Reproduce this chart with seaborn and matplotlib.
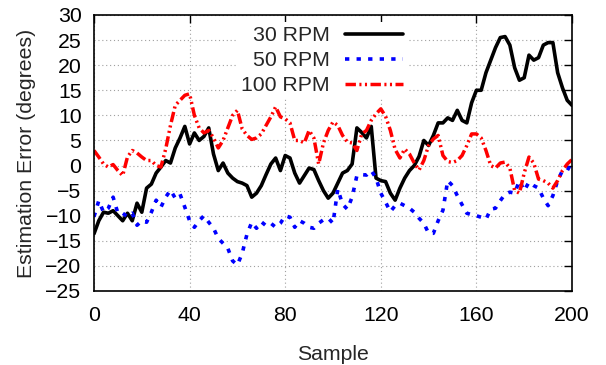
import matplotlib
matplotlib.use("Agg")
import matplotlib.pyplot as plt
import seaborn as sns
import pandas as pd

samples = list(range(0, 201, 2))

rpm30 = [-13.6, -11, -9.3, -9.5, -9.0, -10, -11, -9.5, -11, -7.5,
         -9.3, -4.5, -3.7, -1.5, -0.3, 1, 0.5, 3.5, 5.5, 7.8,
         4.3, 6.5, 5, 5.8, 7.5, 2.3, -1, 0.5, -1.5, -2.5,
         -3.2, -3.5, -4, -6.3, -5.5, -4, -1.8, 0.3, 1.5, -1,
         2, 1.5, -1.5, -3.5, -2, -0.5, -0.8, -3, -5, -6.5,
         -5.5, -3.5, -1.5, -1, 0.3, 7.5, 6.6, 5.5, 7.8, -2.5,
         -3, -3.2, -5.5, -6.9, -4.5, -2.5, -1, 0, 1.8, 5,
         4, 6, 8.5, 8.5, 9.5, 9, 11, 9, 8.5, 12.5,
         15, 15, 18.5, 21, 23.5, 25.5, 25.7, 24, 19.5, 17,
         17.5, 22, 21, 21.5, 24, 24.5, 24.5, 18.5, 15.5, 13,
         12]

rpm50 = [-10.2, -7, -9.3, -8.5, -6.3, -9.5, -9.5, -10.2, -9.5, -11.9,
         -11, -11.3, -9.3, -6.9, -8.3, -6.3, -4.9, -6.5, -5.7, -8.3,
         -11, -12.3, -11, -10, -11.3, -12.5, -14.5, -15.5, -16.5, -19,
         -19.8, -17.5, -13.7, -11.3, -12.5, -11.2, -12, -11.5, -12.3, -11.5,
         -10, -10.3, -12.3, -11, -11.5, -12.3, -12.5, -11.5, -10.8, -10.5,
         -11.5, -4.7, -7.7, -8.7, -6.3, -2, -1.8, -1.9, -1, -2.5,
         -5.5, -7.3, -9.2, -8, -7.5, -8, -8.5, -9.3, -10.5, -11.5,
         -13.5, -13.5, -11, -8.9, -3, -4, -6, -7.8, -9.5, -9.8,
         -10, -10.3, -10.7, -8.7, -8.5, -7, -5.7, -5.3, -5.5, -3,
         -5, -3.3, -4, -4.5, -6.5, -8, -6, -3, -1, -1,
         0.7]

rpm100 = [3, 1.7, 0.3, -0.3, 0.2, -1, -2, 1.7, 3, 2.5,
          1.7, 1, 1, 0, -0.3, 3.3, 8, 12, 13, 14,
          14.3, 10, 7.5, 6.5, 7, 5.5, 3.5, 5, 7.5, 10,
          11, 7.3, 6, 5.2, 5.5, 6.3, 8, 9.7, 11.7, 9.7,
          9.3, 8.5, 5, 5, 4.5, 7, 5.5, 0.3, 4.5, 7,
          8.7, 8, 6, 4.7, 4.5, 3, 6.3, 7, 9, 10.3,
          11.3, 9.8, 7, 3.2, 1.5, 3.3, 2.3, 0.5, -0.9, 1,
          4, 5.3, 6, 2, 0.8, 0.6, 1, 2, 4, 6.3,
          6.3, 5.5, 3, 0, -0.5, 0.5, 0.7, -0.5, -5, -5.5,
          -1.5, 1.7, 0.5, -2.7, -3, -3.5, -4.5, -3, -1, 0.3,
          1.2]

labels = ["30 RPM", "50 RPM", "100 RPM"]
colors = ["#000000", "#0000ff", "#ff0000"]
x_ticks = [0, 40, 80, 120, 160, 200]
y_ticks = [-25, -20, -15, -10, -5, 0, 5, 10, 15, 20, 25, 30]

df = pd.DataFrame({"Sample": samples, labels[0]: rpm30, labels[1]: rpm50, labels[2]: rpm100})

sns.set_style("white")
plt.rcParams["font.family"] = ["Liberation Sans", "DejaVu Sans"]

FS = 15.3
fig = plt.figure(figsize=(6.06, 3.65), dpi=100)
ax = fig.add_axes([94 / 606, 1 - 291 / 365, 478 / 606, 276 / 365])

widths = [2.6, 2.6, 2.5]
dash_styles = [None, (1.2, 2.0), (3.0, 1.0, 0.6, 1.0, 0.6, 1.0)]
for lab, col, lw, ds in zip(labels, colors, widths, dash_styles):
    sns.lineplot(data=df, x="Sample", y=lab, ax=ax, color=col, lw=lw, label=lab)
    ln = ax.lines[-1]
    if ds is not None:
        ln.set_dashes(ds)
        ln.set_dash_capstyle("butt")

ax.set_xlim(0, 200)
ax.set_ylim(-25, 30)
ax.set_xticks(x_ticks)
ax.set_yticks(y_ticks)
ax.grid(True, color="#a0a0a0", linestyle=(0, (1, 2.5)), linewidth=0.8)
ax.set_axisbelow(True)
for sp in ax.spines.values():
    sp.set_color("black")
    sp.set_linewidth(1.2)
    sp.set_visible(True)
ax.tick_params(direction="in", length=5.5, width=1.0, top=True, right=True,
               labelsize=FS, colors="black", pad=9)
ax.tick_params(axis="x", pad=11)
ax.set_xlabel("Sample", fontsize=FS, labelpad=14)
ax.set_ylabel("Estimation Error (degrees)", fontsize=FS, labelpad=7)

leg = ax.legend(loc="upper right", bbox_to_anchor=(0.655, 0.975), markerfirst=False,
                fontsize=FS, handlelength=2.7, handletextpad=0.75, labelspacing=0.28,
                frameon=True, facecolor="white", edgecolor="none", framealpha=1.0,
                borderpad=0.2, borderaxespad=0.0)
leg.get_frame().set_boxstyle("square", pad=0.0)
for t in leg.get_texts():
    t.set_ha("right")

fig.savefig("out.png", dpi=100)
